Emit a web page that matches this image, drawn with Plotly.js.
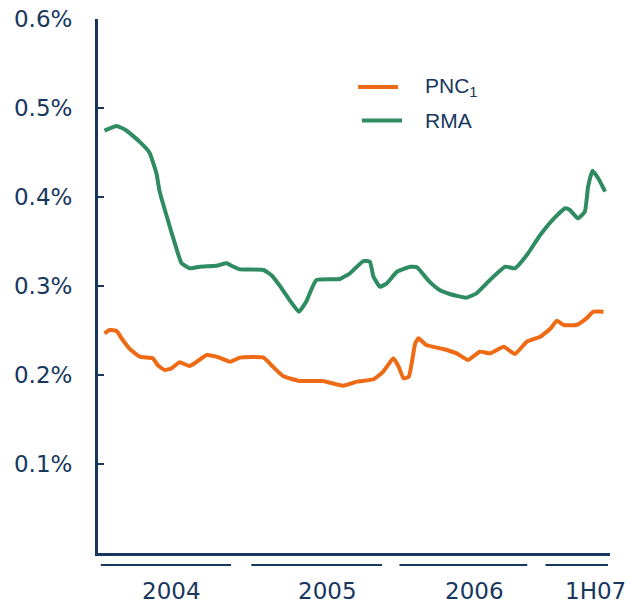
<!DOCTYPE html>
<html>
<head>
<meta charset="utf-8">
<script src="https://cdn.plot.ly/plotly-3.0.1.min.js"></script>
<style>
html,body{margin:0;padding:0;background:#fff;}
#chart{width:632px;height:605px;}
</style>
</head>
<body>
<div id="chart"></div>
<script>
// ---- data (values in %) ----
const seriesNames = ['PNC', 'RMA'];

const pncDates = ['2004-01-17','2004-01-30','2004-02-16','2004-03-02','2004-03-18','2004-04-13','2004-05-15','2004-05-27','2004-06-13','2004-06-30','2004-07-20','2004-08-14','2004-09-01','2004-09-25','2004-10-19','2004-11-22','2004-12-16','2005-02-12','2005-03-07','2005-04-01','2005-05-12','2005-07-08','2005-08-27','2005-09-30','2005-11-10','2005-12-04','2005-12-29','2006-01-11','2006-01-23','2006-02-05','2006-02-21','2006-03-01','2006-03-20','2006-05-01','2006-06-03','2006-07-01','2006-07-30','2006-08-24','2006-09-27','2006-10-25','2006-11-23','2006-12-26','2007-01-21','2007-02-05','2007-02-22','2007-03-25','2007-04-19','2007-05-06','2007-05-31'];
const pncValues = [0.2468,0.2506,0.2494,0.2393,0.2300,0.2206,0.2188,0.2112,0.2056,0.2075,0.2142,0.2101,0.2150,0.2225,0.2206,0.2150,0.2195,0.2195,0.2094,0.1989,0.1933,0.1933,0.1880,0.1925,0.1952,0.2037,0.2188,0.2094,0.1963,0.1981,0.2356,0.2412,0.2337,0.2292,0.2243,0.2168,0.2262,0.2243,0.2318,0.2236,0.2374,0.2430,0.2525,0.2610,0.2562,0.2562,0.2637,0.2711,0.2711];

const rmaDates = ['2004-01-17','2004-02-16','2004-03-10','2004-04-13','2004-05-07','2004-05-24','2004-06-01','2004-06-26','2004-07-16','2004-07-25','2004-08-14','2004-09-08','2004-10-19','2004-11-13','2004-11-26','2004-12-16','2005-02-12','2005-03-03','2005-03-23','2005-04-17','2005-05-10','2005-05-28','2005-06-22','2005-08-19','2005-09-13','2005-10-16','2005-11-01','2005-11-10','2005-11-26','2005-12-13','2006-01-07','2006-02-09','2006-02-25','2006-03-28','2006-04-22','2006-05-17','2006-06-27','2006-07-22','2006-08-24','2006-10-01','2006-10-25','2006-11-23','2006-12-26','2007-01-29','2007-02-26','2007-03-09','2007-03-29','2007-04-15','2007-04-23','2007-05-04','2007-05-18','2007-06-04'];
const rmaValues = [0.4745,0.4798,0.4750,0.4620,0.4498,0.4266,0.4060,0.3666,0.3367,0.3255,0.3199,0.3217,0.3228,0.3255,0.3225,0.3187,0.3180,0.3124,0.3010,0.2843,0.2711,0.2824,0.3067,0.3079,0.3142,0.3280,0.3273,0.3105,0.2992,0.3030,0.3160,0.3217,0.3210,0.3049,0.2955,0.2910,0.2869,0.2918,0.3067,0.3217,0.3199,0.3348,0.3573,0.3760,0.3873,0.3854,0.3760,0.3835,0.4116,0.4296,0.4210,0.4060];

const yTickVals = [0.1, 0.2, 0.3, 0.4, 0.5, 0.6];
const yTickText = ['0.1%', '0.2%', '0.3%', '0.4%', '0.5%', '0.6%'];

const periodLabels = ['2004', '2005', '2006', '1H07'];
const periodCenters = ['2004-07-01', '2005-07-20', '2006-07-16', '2007-05-12'];
const periodStarts = ['2004-01-08', '2005-01-13', '2006-01-13', '2007-01-08'];
const periodEnds = ['2004-11-24', '2005-12-01', '2006-11-24', '2007-06-11'];

// ---- styling ----
const navy = '#17375e';
const orange = '#ee6a14';
const green = '#2e8b62';

const traces = [
  {x: pncDates, y: pncValues, name: seriesNames[0], type: 'scatter', mode: 'lines',
   line: {color: orange, width: 4, shape: 'spline', smoothing: 0.4}, showlegend: false, hoverinfo: 'skip'},
  {x: rmaDates, y: rmaValues, name: seriesNames[1], type: 'scatter', mode: 'lines',
   line: {color: green, width: 4, shape: 'spline', smoothing: 0.4}, showlegend: false, hoverinfo: 'skip'}
];

const shapes = [];
const annotations = [];

// period underline segments and labels
for (let i = 0; i < periodLabels.length; i++) {
  shapes.push({type: 'line', xref: 'x', yref: 'paper', x0: periodStarts[i], x1: periodEnds[i],
    y0: -0.0225, y1: -0.0225, line: {color: navy, width: 2}});
  annotations.push({xref: 'x', yref: 'paper', x: periodCenters[i], y: -0.0715, text: periodLabels[i],
    showarrow: false, xanchor: 'center', yanchor: 'middle',
    font: {family: 'DejaVu Sans', size: 23, color: navy}});
}

// custom legend
const legendColors = [orange, green];
const legendText = ['PNC<sub>1</sub>', 'RMA'];
const legendY = [0.8727, 0.8100];
const legendX0 = [0.508, 0.5156];
const legendX1 = [0.586, 0.5938];
for (let i = 0; i < 2; i++) {
  shapes.push({type: 'line', xref: 'paper', yref: 'paper', x0: legendX0[i], x1: legendX1[i],
    y0: legendY[i], y1: legendY[i], line: {color: legendColors[i], width: 4}});
  annotations.push({xref: 'paper', yref: 'paper', x: 0.6348, y: legendY[i], text: legendText[i],
    showarrow: false, xanchor: 'left', yanchor: 'middle',
    font: {family: 'Liberation Sans', size: 21, color: navy}});
}

const layout = {
  width: 632, height: 605,
  margin: {l: 98, r: 22, t: 19, b: 52, pad: 0},
  paper_bgcolor: '#ffffff', plot_bgcolor: '#ffffff',
  showlegend: false,
  xaxis: {
    type: 'date', range: ['2004-01-01', '2007-06-16'],
    showline: true, linecolor: navy, linewidth: 3,
    showgrid: false, zeroline: false, showticklabels: false, ticks: ''
  },
  yaxis: {
    range: [0, 0.6],
    showline: true, linecolor: navy, linewidth: 3,
    showgrid: false, zeroline: false,
    tickvals: yTickVals, ticktext: yTickText,
    ticks: 'inside', ticklen: 6, tickwidth: 2, tickcolor: navy,
    ticklabelstandoff: 18,
    tickfont: {family: 'DejaVu Sans', size: 23, color: navy}
  },
  shapes: shapes,
  annotations: annotations
};

Plotly.newPlot('chart', traces, layout, {staticPlot: true, displayModeBar: false});
</script>
</body>
</html>
